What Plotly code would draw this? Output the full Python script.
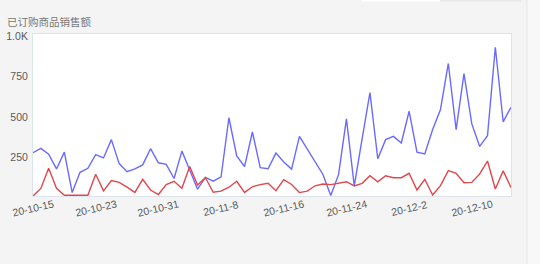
import plotly.graph_objects as go
import pandas as pd

start_date = "2020-10-15"
blue_values = [267, 294, 258, 167, 271, 21, 146, 171, 256, 235, 348, 200, 150, 167, 192,
               292, 205, 195, 108, 277, 160, 42, 115, 92, 118, 483, 247, 182, 395, 175,
               168, 265, 210, 166, 368, 290, 205, 133, 3, 133, 476, 62, 352, 638, 230,
               348, 368, 327, 523, 271, 260, 410, 534, 818, 410, 755, 445, 306, 372, 918,
               458, 548]
red_values = [0, 47, 172, 48, 5, 5, 5, 5, 134, 32, 95, 84, 55, 22, 103,
              37, 9, 71, 91, 48, 182, 68, 114, 23, 30, 54, 91, 22, 57, 70,
              78, 33, 101, 71, 21, 30, 63, 74, 70, 80, 88, 62, 78, 125, 87,
              125, 113, 113, 140, 37, 103, 6, 64, 157, 140, 82, 84, 136, 216, 43,
              155, 52]
x_tick_dates = ["2020-10-15", "2020-10-23", "2020-10-31", "2020-11-08",
                "2020-11-16", "2020-11-24", "2020-12-02", "2020-12-10"]
x_tick_labels = ["20-10-15", "20-10-23", "20-10-31", "20-11-8",
                 "20-11-16", "20-11-24", "20-12-2", "20-12-10"]
y_tick_vals = [250, 500, 750, 1000]
y_tick_labels = ["250", "500", "750", "1.0K"]
title_text = "已订购商品销售额"

dates = pd.date_range(start_date, periods=len(blue_values), freq="D")

W, H = 540, 264
L, R, T, B = 33, 511, 34, 196
pw, ph = R - L, B - T

def px_x(p):
    return (p - L) / pw

def px_y(p):
    return (B - p) / ph

fig = go.Figure()
fig.add_trace(go.Scatter(x=dates, y=blue_values, mode="lines",
                         line=dict(color="#6a6aff", width=1.4), hoverinfo="skip"))
fig.add_trace(go.Scatter(x=dates, y=red_values, mode="lines",
                         line=dict(color="#e0484e", width=1.4), hoverinfo="skip"))

lab_font = dict(family="Liberation Sans, Arial, sans-serif", size=10.5, color="#5a5a5a")

for d, t in zip(x_tick_dates, x_tick_labels):
    fig.add_annotation(x=d, y=0, xref="x", yref="paper", text=t, showarrow=False,
                       textangle=-13, xanchor="center", yanchor="middle",
                       yshift=-12, font=lab_font)

fig.update_layout(
    width=W, height=H,
    margin=dict(l=L, r=W - R, t=T, b=H - B, autoexpand=False),
    paper_bgcolor="#f4f4f4", plot_bgcolor="#ffffff",
    showlegend=False,
    title=dict(text=title_text, x=7 / W, xanchor="left", y=1 - 22.5 / H, yanchor="middle",
               font=dict(family="Noto Sans CJK SC, sans-serif", size=10.5, color="#777777")),
    xaxis=dict(range=[dates[0], dates[-1]], showgrid=False, zeroline=False,
               showticklabels=False, ticks="", showline=True, mirror=True,
               automargin=False, linecolor="#dde3ea", linewidth=1),
    yaxis=dict(range=[0, 1000], showgrid=False, zeroline=False,
               tickvals=y_tick_vals, ticktext=y_tick_labels, ticks="",
               tickfont=lab_font, showline=True, mirror=True, automargin=False,
               ticklabelshift=2, ticklabelstandoff=2,
               linecolor="#dde3ea", linewidth=1),
    shapes=[
        dict(type="rect", xref="paper", yref="paper", x0=px_x(527), x1=px_x(542),
             y0=px_y(266), y1=px_y(-2), fillcolor="#f8f8f8", line=dict(width=0), layer="below"),
        dict(type="line", xref="paper", yref="paper", x0=px_x(527), x1=px_x(527),
             y0=px_y(266), y1=px_y(-2), line=dict(color="#e6e6e6", width=1)),
        dict(type="rect", xref="paper", yref="paper", x0=px_x(362), x1=px_x(440),
             y0=px_y(1.5), y1=px_y(-2), fillcolor="#ffffff", line=dict(width=0)),
        dict(type="rect", xref="paper", yref="paper", x0=px_x(440), x1=px_x(521),
             y0=px_y(1.5), y1=px_y(-2), fillcolor="#e8e8e8", line=dict(width=0)),
    ],
)

fig.write_html("out.html", config=dict(displayModeBar=False))
